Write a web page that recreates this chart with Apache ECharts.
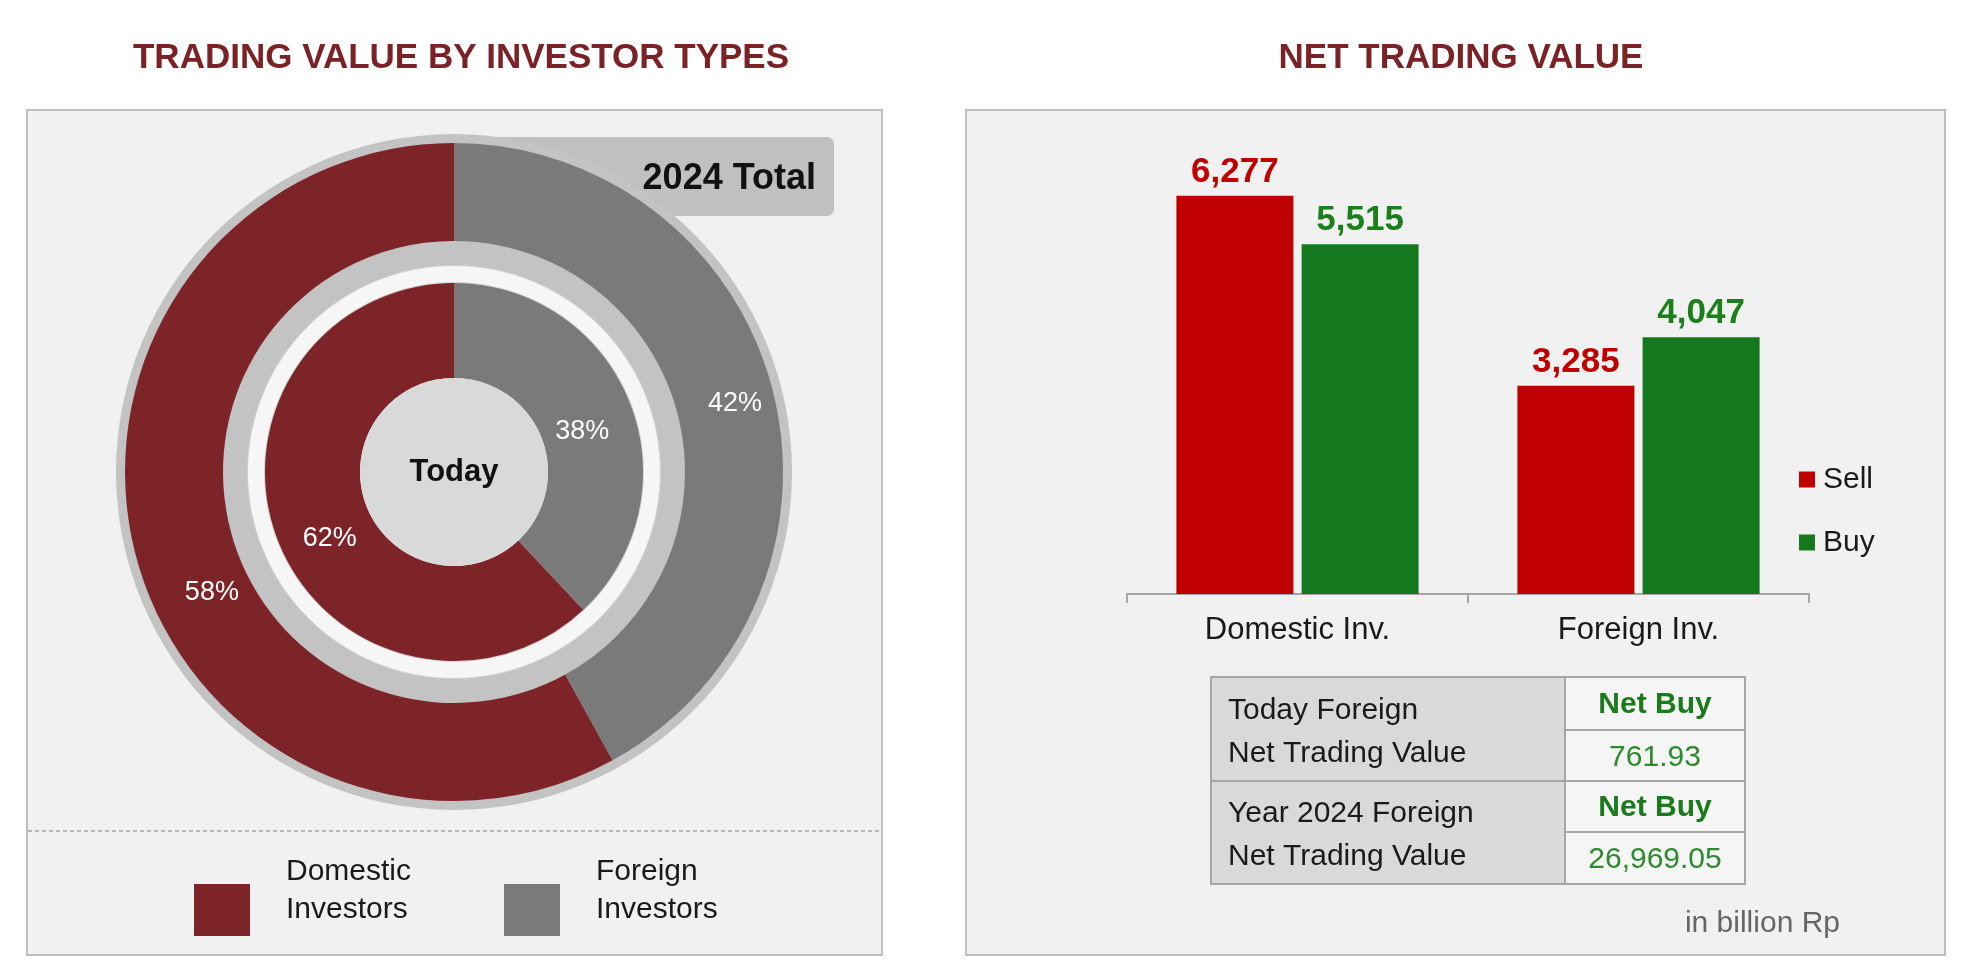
<!doctype html>
<html>
<head>
<meta charset="UTF-8">
<title>Trading value by investor types</title>
<script src="https://cdn.jsdelivr.net/npm/echarts@6/dist/echarts.min.js"></script>
<style>
  html, body { margin: 0; padding: 0; background: #fff; }
  #main { width: 1961px; height: 973px; }
</style>
</head>
<body>
<div id="main"></div>
<script>
// data
var pieCats = ['Domestic Investors', 'Foreign Investors'];
var totalShare = [58, 42];   // 2024 total, outer ring
var todayShare = [62, 38];   // today, inner ring
var barCats = ['Domestic Inv.', 'Foreign Inv.'];
var sellVals = [6277, 3285];
var buyVals = [5515, 4047];
var tableLabels = ['Today Foreign\nNet Trading Value', 'Year 2024 Foreign\nNet Trading Value'];
var tableStatus = ['Net Buy', 'Net Buy'];
var tableValues = ['761.93', '26,969.05'];

var FONT = '"Liberation Sans", Arial, sans-serif';
var pieColors = ['#7d2428', '#7a7a7b'];
var CX = 454, CY = 472;
// small nudges so the percentages sit where the original puts them
var totalNudge = [[32, 50], [7, 2]];
var todayNudge = [[10, 13], [-6, 13]];

var myChart = echarts.init(document.getElementById('main'));

function ringData(vals, nudge) {
    return vals.map(function (v, i) {
        return { value: v, name: pieCats[i], itemStyle: { color: pieColors[i] },
                 label: { offset: nudge[i] } };
    });
}
function plainRing(r0, r1, color, z) {
    return {
        type: 'pie', silent: true, z: z, center: [CX, CY], radius: [r0, r1],
        label: { show: false }, labelLine: { show: false },
        itemStyle: { color: color, borderWidth: 0 },
        emphasis: { disabled: true },
        data: [{ value: 1, name: 'ring' + z }]
    };
}
function pieLabel() {
    return {
        show: true, position: 'inside', color: '#fff', fontFamily: FONT, fontSize: 27,
        formatter: function (p) { return p.value + '%'; }
    };
}

// table graphics
var tbl = { x: 1211, w: 534, split: 1565, rows: [677, 730, 781, 832, 884] };
var tableEls = [];
for (var i = 0; i < 2; i++) {
    var yTop = tbl.rows[i * 2], yMid = tbl.rows[i * 2 + 1], yBot = tbl.rows[i * 2 + 2];
    var xMid = (tbl.split + tbl.x + tbl.w) / 2;
    tableEls.push({ type: 'rect', z: 5, shape: { x: tbl.x, y: yTop, width: tbl.split - tbl.x, height: yBot - yTop },
        style: { fill: '#d9d9d9', stroke: '#a6a6a6', lineWidth: 2 } });
    tableEls.push({ type: 'rect', z: 5, shape: { x: tbl.split, y: yTop, width: tbl.x + tbl.w - tbl.split, height: yMid - yTop },
        style: { fill: '#f5f5f5', stroke: '#a6a6a6', lineWidth: 2 } });
    tableEls.push({ type: 'rect', z: 5, shape: { x: tbl.split, y: yMid, width: tbl.x + tbl.w - tbl.split, height: yBot - yMid },
        style: { fill: '#f5f5f5', stroke: '#a6a6a6', lineWidth: 2 } });
    tableEls.push({ type: 'text', z: 6, x: tbl.x + 17, y: (yTop + yBot) / 2 + 3,
        style: { text: tableLabels[i], fill: '#1a1a1a', font: '30px ' + FONT, lineHeight: 43,
            verticalAlign: 'middle', align: 'left' } });
    tableEls.push({ type: 'text', z: 6, x: xMid, y: (yTop + yMid) / 2 + 1,
        style: { text: tableStatus[i], fill: '#1b7a1b', font: 'bold 30px ' + FONT, align: 'center', verticalAlign: 'middle' } });
    tableEls.push({ type: 'text', z: 6, x: xMid, y: (yMid + yBot) / 2 + 2,
        style: { text: tableValues[i], fill: '#2d8a2d', font: '30px ' + FONT, align: 'center', verticalAlign: 'middle' } });
}

function pieLegend(name, left) {
    return {
        data: [name], left: left, top: 853, padding: 0, icon: 'rect', itemWidth: 56, itemHeight: 52,
        selectedMode: false,
        // trailing empty line lifts the two text lines above the square's centre, as in the original
        formatter: function (n) { return n.replace(' ', '\n') + '\n'; },
        textStyle: { fontFamily: FONT, fontSize: 30, lineHeight: 38, color: '#1a1a1a', padding: [0, 0, 0, 31] }
    };
}

var option = {
    animation: false,
    title: [
        { text: 'TRADING VALUE BY INVESTOR TYPES', left: 456, top: 36, textAlign: 'center',
          textStyle: { color: '#7b2226', fontFamily: FONT, fontWeight: 'bold', fontSize: 35 } },
        { text: 'NET TRADING VALUE', left: 1456, top: 36, textAlign: 'center',
          textStyle: { color: '#7b2226', fontFamily: FONT, fontWeight: 'bold', fontSize: 35 } }
    ],
    legend: [
        pieLegend(pieCats[0], 194),
        pieLegend(pieCats[1], 504),
        { data: ['Sell', 'Buy'], orient: 'vertical', left: 1799, top: 464, padding: 0, icon: 'rect',
          itemWidth: 16, itemHeight: 16, itemGap: 32, selectedMode: false,
          textStyle: { fontFamily: FONT, fontSize: 30, lineHeight: 31, color: '#1a1a1a', padding: [0, 0, 0, 3] } }
    ],
    grid: { left: 1127, width: 682, top: 150, height: 444 },
    xAxis: {
        type: 'category', data: barCats,
        axisLine: { lineStyle: { color: '#a6a6a6', width: 2 } },
        axisTick: { show: true, length: 9, lineStyle: { color: '#a6a6a6', width: 2 } },
        axisLabel: { fontFamily: FONT, fontSize: 31, color: '#1a1a1a', margin: 21 }
    },
    yAxis: { type: 'value', min: 0, max: 7000, show: false },
    graphic: {
        elements: [
            { type: 'rect', z: -10, shape: { x: 27, y: 110, width: 855, height: 845 },
              style: { fill: '#f1f1f1', stroke: '#bfbfbf', lineWidth: 2 } },
            { type: 'rect', z: -10, shape: { x: 966, y: 110, width: 979, height: 845 },
              style: { fill: '#f1f1f1', stroke: '#bfbfbf', lineWidth: 2 } },
            { type: 'line', z: -9, shape: { x1: 28, y1: 831, x2: 881, y2: 831 },
              style: { stroke: '#a6a6a6', lineWidth: 1.5, lineDash: [4, 3] } },
            { type: 'rect', z: -5, shape: { x: CX, y: 137, width: 834 - CX, height: 79, r: 7 },
              style: { fill: '#c0c0c0' } },
            { type: 'text', z: 10, x: 816, y: 179,
              style: { text: '2024 Total', fill: '#111', font: 'bold 36px ' + FONT, align: 'right', verticalAlign: 'middle' } },
            { type: 'text', z: 10, x: 1840, y: 924,
              style: { text: 'in billion Rp', fill: '#666', font: '30px ' + FONT, align: 'right', verticalAlign: 'middle' } }
        ].concat(tableEls)
    },
    series: [
        plainRing(205, 338, '#c3c3c3', 1),
        {
            type: 'pie', name: '2024 Total', z: 2, center: [CX, CY], radius: [231, 329],
            startAngle: 90, clockwise: false,
            itemStyle: { borderWidth: 0 }, emphasis: { disabled: true },
            label: pieLabel(), labelLine: { show: false },
            data: ringData(totalShare, totalNudge)
        },
        plainRing(186, 207, '#d2d2d2', 2),
        plainRing(190, 206, '#f6f6f6', 3),
        {
            type: 'pie', name: 'Today', z: 4, center: [CX, CY], radius: [94, 189],
            startAngle: 90, clockwise: false,
            itemStyle: { borderWidth: 0 }, emphasis: { disabled: true },
            label: pieLabel(), labelLine: { show: false },
            data: ringData(todayShare, todayNudge)
        },
        {
            type: 'pie', silent: true, z: 5, center: [CX, CY], radius: [0, 94],
            itemStyle: { color: '#d9d9d9', borderWidth: 0 }, emphasis: { disabled: true },
            label: { show: true, position: 'center', formatter: 'Today', color: '#111',
                     fontFamily: FONT, fontWeight: 'bold', fontSize: 31 },
            labelLine: { show: false },
            data: [{ value: 1, name: 'center' }]
        },
        {
            type: 'bar', name: 'Sell', data: sellVals, barWidth: 117, barGap: '7%',
            itemStyle: { color: '#c00000' },
            label: { show: true, position: 'top', distance: 6, color: '#c00000', fontFamily: FONT,
                     fontWeight: 'bold', fontSize: 35,
                     formatter: function (p) { return p.value.toLocaleString('en-US'); } }
        },
        {
            type: 'bar', name: 'Buy', data: buyVals, barWidth: 117,
            itemStyle: { color: '#14791e' },
            label: { show: true, position: 'top', distance: 6, color: '#1b7f1b', fontFamily: FONT,
                     fontWeight: 'bold', fontSize: 35,
                     formatter: function (p) { return p.value.toLocaleString('en-US'); } }
        }
    ]
};
myChart.setOption(option);
</script>
</body>
</html>
